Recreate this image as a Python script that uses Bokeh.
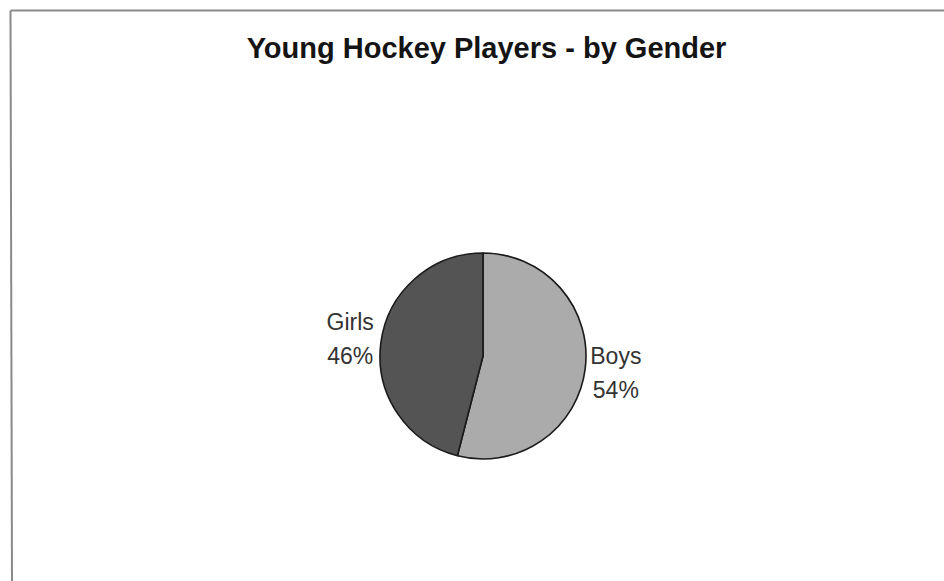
import math
from bokeh.plotting import figure
from bokeh.models import Range1d, ColumnDataSource
from bokeh.core.properties import value
from bokeh.embed import file_html
from bokeh.resources import INLINE

title_text = "Young Hockey Players - by Gender"
categories = ["Boys", "Girls"]
values = [54, 46]
colors = ["#ababab", "#545454"]

W, H = 944, 581
p = figure(width=W, height=H, output_backend="svg", toolbar_location=None,
           x_range=Range1d(0, W), y_range=Range1d(0, H), min_border=0)
p.axis.visible = False
p.grid.visible = False
p.outline_line_color = None
p.background_fill_color = "white"

# frame border
p.segment(x0=[10, 10], y0=[H - 10, H - 10], x1=[W, 11.5], y1=[H - 10, 0],
          line_color="#8a8a8a", line_width=2)

# title
p.text(x=[W / 2 + 14], y=[H - 47], text=[title_text], text_font=value("Liberation Sans"),
       text_font_style="bold", text_font_size="29px", text_align="center",
       text_baseline="middle", text_color="#141414")

cx, cy, r = 482.5, H - 355.5, 103
total = sum(values)
starts, ends, mids = [], [], []
acc = 0.0
for v in values:
    a0 = math.pi / 2 - 2 * math.pi * acc / total
    acc += v
    a1 = math.pi / 2 - 2 * math.pi * acc / total
    starts.append(a1)
    ends.append(a0)
    mids.append((a0 + a1) / 2)

src = ColumnDataSource(dict(start=starts, end=ends, color=colors))
p.wedge(x=cx, y=cy, radius=r, radius_units="screen", start_angle="start", end_angle="end",
        fill_color="color", line_color="#1a1a1a", line_width=1.6, source=src)

lr = r * 1.3
lx = [cx + lr * math.cos(m) for m in mids]
ly = [cy + lr * math.sin(m) for m in mids]
pct = [f"{round(100 * v / total)}%" for v in values]
p.text(x=lx, y=[y + 17 for y in ly], text=categories, text_font=value("Liberation Sans"),
       text_font_size="23px", text_align="center", text_baseline="middle", text_color="#333333")
p.text(x=lx, y=[y - 17 for y in ly], text=pct, text_font=value("Liberation Sans"),
       text_font_size="23px", text_align="center", text_baseline="middle", text_color="#333333")

open("out.html", "w").write(file_html(p, INLINE))
